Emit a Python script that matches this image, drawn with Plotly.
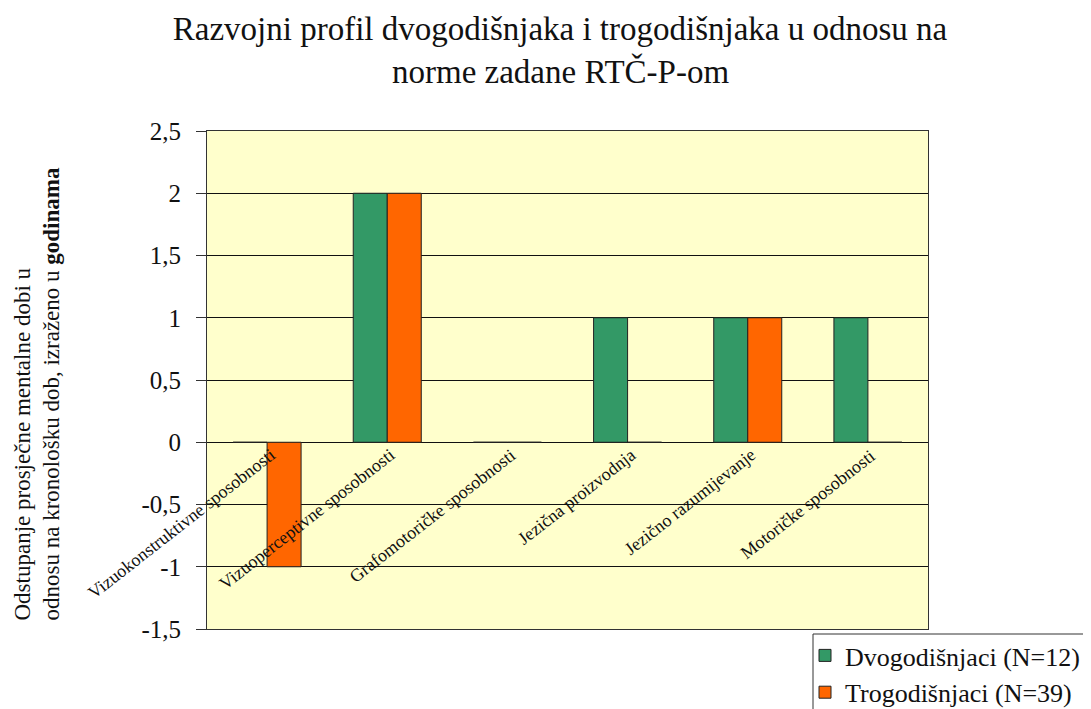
import plotly.graph_objects as go

categories = ["Vizuokonstruktivne sposobnosti", "Vizuoperceptivne sposobnosti",
              "Grafomotoričke sposobnosti", "Jezična proizvodnja",
              "Jezično razumijevanje", "Motoričke sposobnosti"]
dvogodisnjaci = [0, 2, 0, 1, 1, 1]
trogodisnjaci = [-1, 2, 0, 0, 1, 0]
series_names = ["Dvogodišnjaci (N=12)", "Trogodišnjaci (N=39)"]
tick_vals = [-1.5, -1, -0.5, 0, 0.5, 1, 1.5, 2, 2.5]
tick_text = ["-1,5", "-1", "-0,5", "0", "0,5", "1", "1,5", "2", "2,5"]
title_lines = ["Razvojni profil dvogodišnjaka i trogodišnjaka u odnosu na",
               "norme zadane RTČ-P-om"]

FONT = "Liberation Serif"
OFF = 8  # page body margin
W, H = 1091 - OFF, 709 - OFF
L, T = 207 - OFF, 131 - OFF
R, B = W - (928 - OFF), H - (629 - OFF)
PW, PH = W - L - R, H - T - B


def px_x(sx):  # screen x -> paper x
    return (sx - OFF - L) / PW


def px_y(sy):  # screen y -> paper y
    return (H - (sy - OFF) - B) / PH


fig = go.Figure()
fig.add_trace(go.Bar(x=categories, y=dvogodisnjaci, name=series_names[0],
                     marker=dict(color="#339966", line=dict(color="#222222", width=1))))
fig.add_trace(go.Bar(x=categories, y=trogodisnjaci, name=series_names[1],
                     marker=dict(color="#FF6600", line=dict(color="#222222", width=1))))

for c in categories:
    fig.add_annotation(x=c, y=0, xref="x", yref="y", text=c, showarrow=False,
                       textangle=-38, xanchor="right", yanchor="top",
                       xshift=14, yshift=0,
                       font=dict(family=FONT, size=18, color="#111111"))

fig.add_annotation(
    text="Odstupanje prosječne mentalne dobi u<br>odnosu na kronološku dob, izraženo u <b>godinama</b>",
    xref="paper", yref="paper", x=px_x(37), y=px_y(623),
    xanchor="center", yanchor="bottom", textangle=-90, align="left", showarrow=False,
    font=dict(family=FONT, size=23, color="#111111"))

# second title line
fig.add_annotation(text=title_lines[1], xref="paper", yref="paper",
                   x=px_x(560), y=px_y(71), xanchor="center", yanchor="middle",
                   showarrow=False, font=dict(family=FONT, size=33, color="#111111"))

# legend frame (partly cut by the right edge, as in the reference)
fig.add_shape(type="rect", xref="paper", yref="paper",
              x0=px_x(813), x1=px_x(1110), y0=px_y(730), y1=px_y(634),
              line=dict(color="#333333", width=1), fillcolor="white", layer="below")

fig.update_layout(
    width=W, height=H,
    margin=dict(l=L, r=R, t=T, b=B, autoexpand=False),
    paper_bgcolor="white", plot_bgcolor="#FFFFCC",
    barmode="group", bargap=0.434, bargroupgap=0,
    title=dict(text=title_lines[0], x=(560 - OFF) / W, xanchor="center", xref="container",
               y=1 - (28 - OFF) / H, yanchor="middle", yref="container",
               font=dict(family=FONT, size=33, color="#111111")),
    font=dict(family=FONT, color="#111111"),
    showlegend=True,
    legend=dict(x=px_x(805), xanchor="left", y=px_y(632), yanchor="top",
                bgcolor="rgba(0,0,0,0)", borderwidth=0,
                font=dict(family=FONT, size=26, color="#111111"), tracegroupgap=0),
    xaxis=dict(range=[-0.5, len(categories) - 0.5], autorange=False,
               showticklabels=False, ticks="", showgrid=False, showline=True, mirror=True,
               linecolor="#333333", linewidth=1, zeroline=False),
    yaxis=dict(range=[-1.5, 2.5], autorange=False, tickvals=tick_vals, ticktext=tick_text,
               ticks="outside", ticklen=10, tickcolor="#333333", ticklabelstandoff=10,
               showgrid=True, gridcolor="#111111", gridwidth=1,
               zeroline=True, zerolinecolor="#111111", zerolinewidth=1,
               showline=True, mirror=True, linecolor="#333333", linewidth=1,
               tickfont=dict(family=FONT, size=25, color="#111111")),
)

fig.write_html("out.html")
